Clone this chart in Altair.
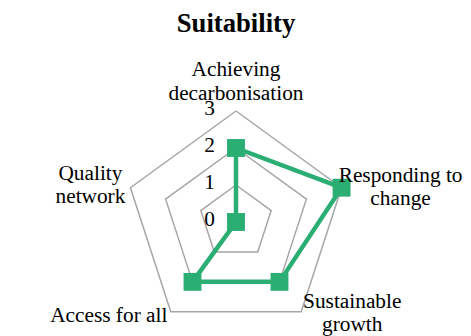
import altair as alt
import pandas as pd

categories = ["Achieving decarbonisation", "Responding to change", "Sustainable growth",
              "Access for all", "Quality network"]
label_lines = [["Achieving", "decarbonisation"], ["Responding to", "change"],
               ["Sustainable", "growth"], ["Access for all"], ["Quality", "network"]]
values = [2, 3, 2, 2, 0]
levels = [1, 2, 3]
tick_labels = ["0", "1", "2", "3"]

n = len(categories)
series = pd.DataFrame({"cat": categories + [categories[0]],
                       "idx": list(range(n)) + [n],
                       "value": values + [values[0]]})
points = pd.DataFrame({"cat": categories, "idx": list(range(n)), "value": values})
grid = pd.DataFrame([{"level": lv, "idx": i} for lv in levels for i in range(n + 1)])
ticks = pd.DataFrame({"t": tick_labels, "value": [int(t) for t in tick_labels]})
labels = pd.DataFrame({"cat": categories, "idx": list(range(n)), "lines": label_lines,
                       "r": [levels[-1]] * n})

W, H = 455, 328
unit = 37.0
cx, cy = 228, 214
xs = alt.Scale(domain=[-cx / unit, (W - cx) / unit], nice=False, zero=False)
ys = alt.Scale(domain=[-(H - cy) / unit, cy / unit], nice=False, zero=False)
X = lambda f: alt.X(f, type="quantitative", scale=xs, axis=None)
Y = lambda f: alt.Y(f, type="quantitative", scale=ys, axis=None)

polar_x = "{r} * sin(2 * PI * datum.idx / %d)" % n
polar_y = "{r} * cos(2 * PI * datum.idx / %d)" % n

FS = 21.33

grid_layer = alt.Chart(grid).transform_calculate(
    px=polar_x.format(r="datum.level"), py=polar_y.format(r="datum.level")
).mark_line(color="#A6A6A6", strokeWidth=1.5).encode(
    x=X("px"), y=Y("py"), detail="level:N", order="idx:Q")

line_layer = alt.Chart(series).transform_calculate(
    px=polar_x.format(r="datum.value"), py=polar_y.format(r="datum.value")
).mark_line(color="#2BAE74", strokeWidth=4.5).encode(
    x=X("px"), y=Y("py"), order="idx:Q")

point_layer = alt.Chart(points).transform_calculate(
    px=polar_x.format(r="datum.value"), py=polar_y.format(r="datum.value")
).mark_square(color="#2BAE74", size=320, opacity=1).encode(x=X("px"), y=Y("py"))

tick_layer = alt.Chart(ticks).mark_text(
    align="right", baseline="middle", dx=-21, dy=-2, font="Liberation Serif", fontSize=FS,
    color="#000000").encode(x=alt.X("z:Q", scale=xs, axis=None), y=Y("value"), text="t:N"
).transform_calculate(z="0")

offsets = {0: (0, -41), 1: (59, -12), 2: (51, -10), 3: (-62, 4), 4: (-40, -14)}
label_layers = []
for i, (dx, dy) in offsets.items():
    label_layers.append(
        alt.Chart(labels).transform_filter(alt.datum.idx == i).transform_calculate(
            px=polar_x.format(r="datum.r"), py=polar_y.format(r="datum.r")
        ).mark_text(align="center", baseline="middle", dx=dx, dy=dy,
                    font="Liberation Serif", fontSize=FS, lineHeight=23.5, color="#000000"
        ).encode(x=X("px"), y=Y("py"), text="lines"))

title_layer = alt.Chart(pd.DataFrame({"t": ["Suitability"]})).mark_text(
    font="Liberation Serif", fontSize=26.67, fontWeight="bold", color="#000000",
    align="center", baseline="middle").encode(
    x=alt.value(cx), y=alt.value(16), text="t:N")

chart = alt.layer(grid_layer, line_layer, point_layer, tick_layer, *label_layers, title_layer
).properties(width=W, height=H, padding=0, autosize="none"
).configure_view(stroke=None)

chart.save("out.html", embed_options={"renderer": "svg", "actions": False})
